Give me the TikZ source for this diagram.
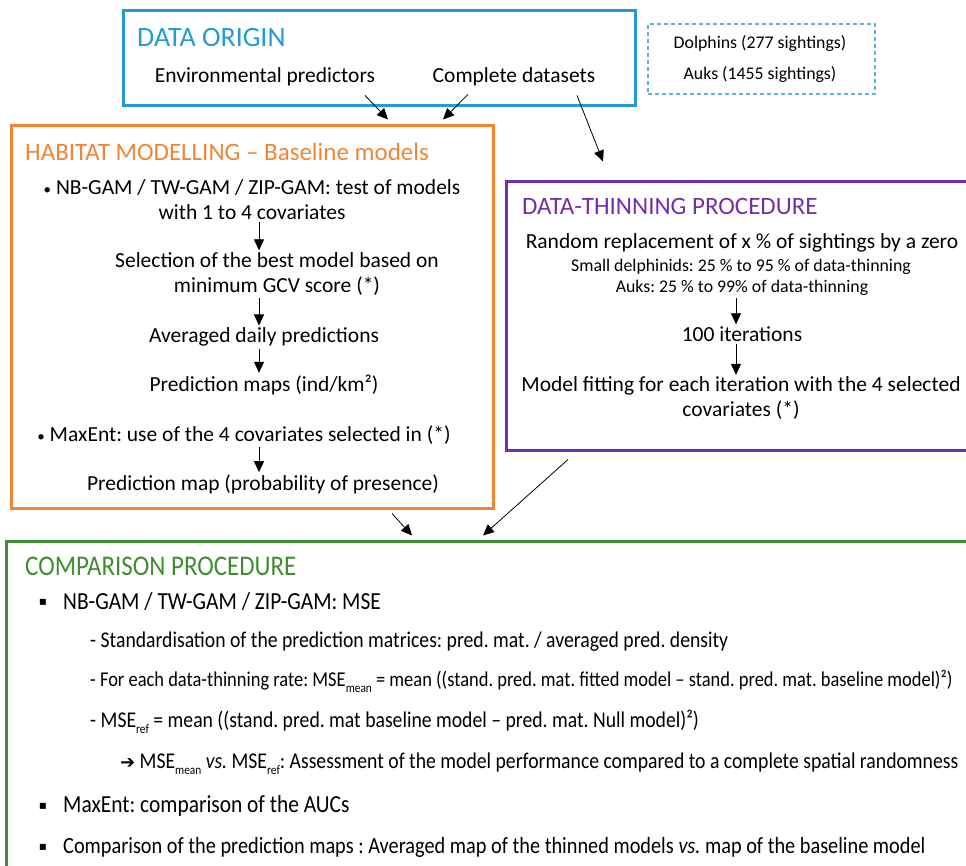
\documentclass[tikz,border=0pt]{standalone}
\usepackage{fontspec}
\setmainfont{Carlito}
\newfontfamily\narrowfont[FakeStretch=0.875, Ligatures=TeX]{Carlito}
\newfontfamily\symbfont{DejaVu Sans}
\usetikzlibrary{arrows.meta, positioning}
\definecolor{originblue}{RGB}{36,155,214}
\definecolor{habitatorange}{RGB}{242,133,52}
\definecolor{thinpurple}{RGB}{118,46,168}
\definecolor{compgreen}{RGB}{62,142,48}
\newcommand{\lowtxt}[1]{\raisebox{-0.6ex}{\fontsize{13}{13}\selectfont #1}}
\newcommand{\smallbul}{{\fontsize{15}{15}\selectfont•}}
\frenchspacing

\begin{document}
\begin{tikzpicture}[
    x=1pt, y=-1pt,
    frame/.style={rectangle, draw=#1, line width=3pt, inner sep=0pt},
    dashframe/.style={rectangle, draw=#1, line width=1.3pt, dash pattern=on 4pt off 3pt, inner sep=0pt},
    title/.style={anchor=west, inner sep=0pt, text=#1, font=\fontsize{25}{30}\selectfont},
    bodytxt/.style={align=center, inner sep=0pt, font=\fontsize{21.5}{25}\selectfont},
    smalltxt/.style={align=center, inner sep=0pt, font=\fontsize{17.8}{20}\selectfont},
    comptxt/.style={anchor=west, inner sep=0pt, font=\narrowfont\fontsize{#1}{26}\selectfont},
    comptxt/.default=22.5,
    sqbullet/.style={inner sep=0pt, font=\symbfont\fontsize{12}{12}\selectfont},
    arrow/.style={-{Triangle[length=11pt, width=10pt]}, line width=0.8pt}
]
\useasboundingbox (0,0) rectangle (966,866);
\clip (0,0) rectangle (966,866);

% frames
\node[frame=originblue, minimum width=512pt, minimum height=95pt] (origin) at (379,58.5) {};
\node[dashframe=originblue!75, minimum width=227pt, minimum height=70pt] (species) at (761.5,59) {};
\node[frame=habitatorange, minimum width=482pt, minimum height=382pt] (habitat) at (252,317) {};
\node[frame=thinpurple, minimum width=474pt, minimum height=268pt] (thinning) at (743,316) {};
\node[frame=compgreen, minimum width=974pt, minimum height=339pt] (compar) at (493,710.5) {};

% data origin
\node[title=originblue, font=\fontsize{28}{30}\selectfont] (otitle) at (137,38) {DATA ORIGIN};
\node[bodytxt] (envp) at (265,77) {Environmental predictors};
\node[bodytxt] (cds) at (514,77) {Complete datasets};
\node[smalltxt] (dolph) at (760,44) {Dolphins (277 sightings)};
\node[smalltxt] (auks) at (760,75) {Auks (1455 sightings)};

% habitat modelling
\node[title=habitatorange] (htitle) at (25,152) {HABITAT MODELLING – Baseline models};
\node[bodytxt] (nbgam) at (252,199.5) {\smallbul\ NB-GAM / TW-GAM / ZIP-GAM: test of models\\with 1 to 4 covariates};
\node[bodytxt] (select) at (277,274) {Selection of the best model based on\\minimum GCV score (*)};
\node[bodytxt] (avg) at (264,337) {Averaged daily predictions};
\node[bodytxt] (pmaps) at (264,385) {Prediction maps (ind/km²)};
\node[bodytxt] (maxent) at (244,435) {\smallbul\ MaxEnt: use of the 4 covariates selected in (*)};
\node[bodytxt] (pmap) at (263,484) {Prediction map (probability of presence)};
\coordinate (hx) at (259,0);

% data-thinning
\node[title=thinpurple] (ttitle) at (522,206) {DATA-THINNING PROCEDURE};
\node[bodytxt] (random) at (742,243) {Random replacement of x \% of sightings by a zero};
\node[smalltxt] (smalld) at (741,267) {Small delphinids: 25 \% to 95 \% of data-thinning};
\node[smalltxt] (auksr) at (742,288) {Auks: 25 \% to 99\% of data-thinning};
\node[bodytxt] (iter) at (742,334) {100 iterations};
\node[bodytxt] (fit) at (741,398.5) {Model fitting for each iteration with the 4 selected\\covariates (*)};
\coordinate (tx) at (736,0);

% comparison
\node[title=compgreen, font=\narrowfont\fontsize{28.5}{30}\selectfont] (ctitle) at (25,566) {COMPARISON PROCEDURE};
\node[sqbullet] (b1) at (43,602) {▪};
\node[comptxt=24.5] (c1) at (63,602) {NB-GAM / TW-GAM / ZIP-GAM: MSE};
\node[comptxt] (c2) at (90,642) {- Standardisation of the prediction matrices: pred. mat. / averaged pred. density};
\node[comptxt=21.1] (c3) at (90,681) {- For each data-thinning rate: MSE\lowtxt{mean} = mean ((stand. pred. mat. fitted model – stand. pred. mat. baseline model)²)};
\node[comptxt] (c4) at (90,722) {- MSE\lowtxt{ref} = mean ((stand. pred. mat baseline model – pred. mat. Null model)²)};
\node[comptxt] (c5) at (120,764) {{\symbfont\fontsize{18}{18}\selectfont ➔} MSE\lowtxt{mean} \textit{vs.} MSE\lowtxt{ref}: Assessment of the model performance compared to a complete spatial randomness};
\node[sqbullet] (b2) at (43,806) {▪};
\node[comptxt=24.5] (c6) at (63,806) {MaxEnt: comparison of the AUCs};
\node[sqbullet] (b3) at (43,847) {▪};
\node[comptxt=23.2] (c7) at (63,847) {Comparison of the prediction maps : Averaged map of the thinned models \textit{vs.} map of the baseline model};

% arrows inside the frames
\draw[arrow] ([yshift=-2pt]nbgam.south -| hx) -- ([yshift=2pt]select.north -| hx);
\draw[arrow] ([yshift=-2pt]select.south -| hx) -- ([yshift=2pt]avg.north -| hx);
\draw[arrow] ([yshift=-2pt]avg.south -| hx) -- ([yshift=2pt]pmaps.north -| hx);
\draw[arrow] ([yshift=-2pt]maxent.south -| hx) -- ([yshift=2pt]pmap.north -| hx);
\draw[arrow] ([yshift=-2pt]auksr.south -| tx) -- ([yshift=2pt]iter.north -| tx);
\draw[arrow] ([yshift=-2pt]iter.south -| tx) -- ([yshift=2pt]fit.north -| tx);

% arrows between the frames
\draw[arrow] ([xshift=100pt,yshift=-9pt]envp.south) -- ([xshift=136pt,yshift=5pt]habitat.north);
\draw[arrow] ([xshift=-46pt,yshift=-8pt]cds.south) -- ([xshift=191pt,yshift=5pt]habitat.north);
\draw[arrow] ([xshift=63pt,yshift=-9pt]cds.south) -- ([xshift=-140pt,yshift=19pt]thinning.north);
\draw[arrow] ([xshift=140pt,yshift=-4pt]habitat.south) -- ([xshift=-81pt,yshift=4pt]compar.north);
\draw[arrow] ([xshift=-175pt,yshift=-8pt]thinning.south) -- ([xshift=-10pt,yshift=4pt]compar.north);
\end{tikzpicture}
\end{document}
